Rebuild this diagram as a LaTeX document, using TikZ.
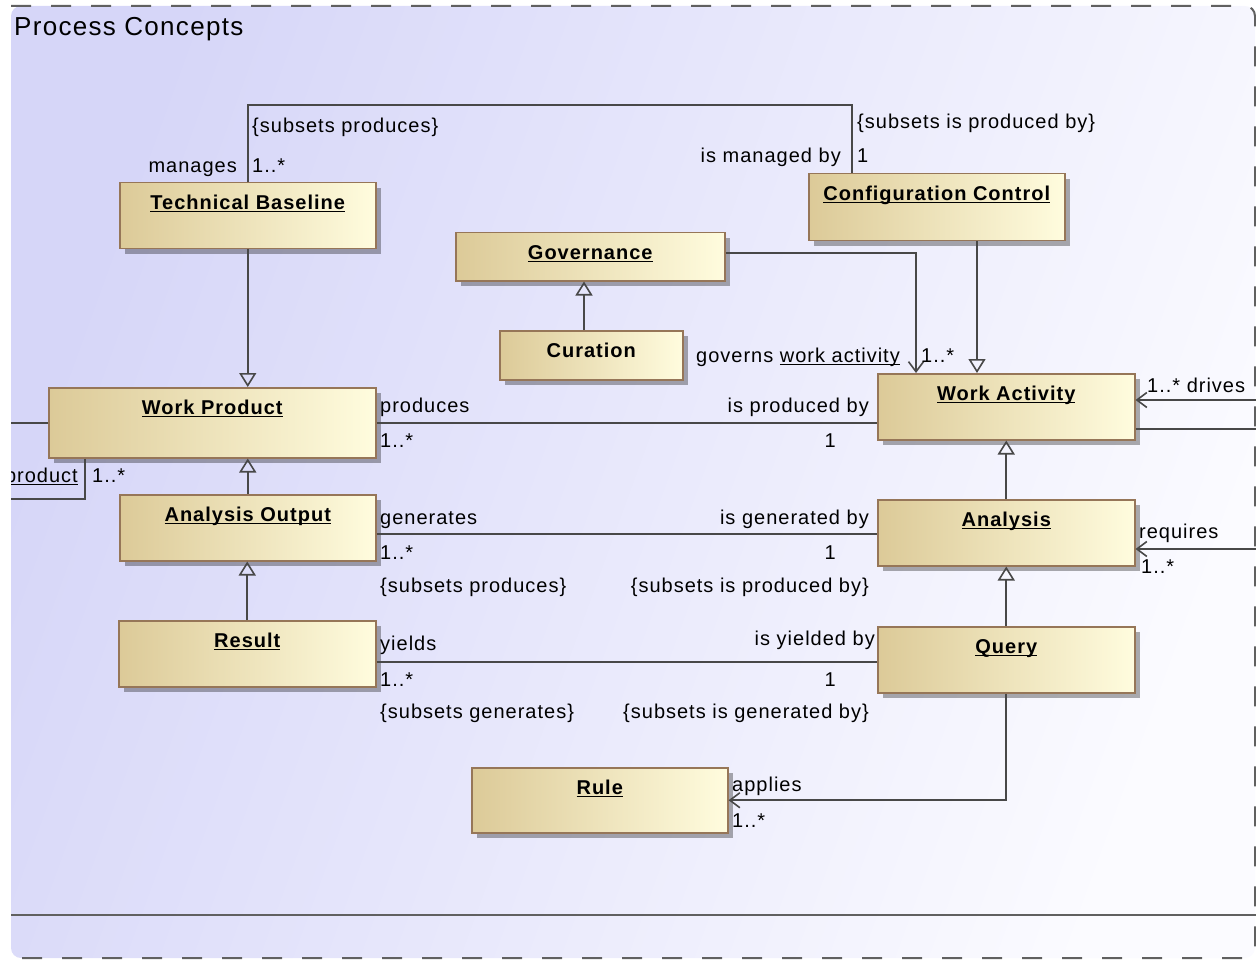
\documentclass[tikz,border=0pt]{standalone}
\usepackage{fontspec}
\setmainfont{Liberation Sans}[LetterSpace=5]
\usetikzlibrary{arrows.meta,shadows}

\definecolor{lavL}{RGB}{214,214,248}
\definecolor{lavR}{RGB}{251,251,255}
\definecolor{boxL}{RGB}{220,202,152}
\definecolor{boxR}{RGB}{255,252,222}
\definecolor{boxB}{RGB}{150,118,88}
\definecolor{wireC}{RGB}{72,72,72}
\definecolor{frameC}{RGB}{96,96,96}

% underline drawn at a fixed depth below the baseline
\newcommand\uln[1]{\setbox0\hbox{#1}\rlap{\rule[-2.8pt]{\wd0}{1.4pt}}#1}

\begin{document}
\begin{tikzpicture}[x=1pt, y=-1pt,
  font=\fontsize{20}{24}\selectfont,
  classbox/.style={draw=boxB, line width=1.5pt, left color=boxL, right color=boxR,
    inner sep=0pt, text height=26.5pt, anchor=north west,
    font=\fontsize{20}{24}\selectfont\bfseries,
    drop shadow={shadow xshift=5pt, shadow yshift=-5pt, fill=black, opacity=0.32}},
  conn/.style={draw=wireC, line width=1.6pt},
  gen/.style={conn, -{Triangle[open, length=14pt, width=17pt]}},
  nav/.style={conn, -{Straight Barb[length=10pt, width=15pt]}},
  lbl/.style={inner sep=0pt, text height=14.6pt, text depth=4.2pt},
  framedash/.style={draw=frameC, line width=2pt, dash pattern=on 20pt off 20pt}]

\useasboundingbox (0,0) rectangle (1256,960);

% package frame
\shade[left color=lavL, right color=lavR, shading angle=70, rounded corners=10pt]
  (11,6) rectangle (1255,958);
\draw[framedash, rounded corners=10pt] (11,6) -- (1255,6) -- (1255,958) -- (11,958);
\draw[draw=frameC, line width=2pt] (11,915) -- (1256,915);

\node[lbl, anchor=west, font=\fontsize{26}{30}\selectfont\addfontfeature{LetterSpace=5}]
  (title) at (14,30) {Process Concepts};

% classes
\node[classbox, minimum width=256pt, text depth=39.5pt] (tb)  at (119,182) {\uln{Technical Baseline}};
\node[classbox, minimum width=256pt, text depth=40.5pt] (cc)  at (808,173) {\uln{Configuration Control}};
\node[classbox, minimum width=269pt, text depth=21.5pt] (gov) at (455,232) {\uln{Governance}};
\node[classbox, minimum width=183pt, text depth=22.5pt] (cur) at (499,330) {Curation};
\node[classbox, minimum width=327pt, text depth=43.5pt] (wp)  at (48,387)  {\uln{Work Product}};
\node[classbox, minimum width=257pt, text depth=39.5pt] (wa)  at (877,373) {\uln{Work Activity}};
\node[classbox, minimum width=256pt, text depth=39.5pt] (ao)  at (119,494) {\uln{Analysis Output}};
\node[classbox, minimum width=257pt, text depth=39.5pt] (an)  at (877,499) {\uln{Analysis}};
\node[classbox, minimum width=257pt, text depth=39.5pt] (re)  at (118,620) {\uln{Result}};
\node[classbox, minimum width=257pt, text depth=39.5pt] (qu)  at (877,626) {\uln{Query}};
\node[classbox, minimum width=256pt, text depth=38.5pt] (ru)  at (471,767) {\uln{Rule}};

% routing points
\coordinate (mgmt) at (852,105);
\coordinate (govturn) at (916,253);
\coordinate (curx) at (584,0);
\coordinate (ccx) at (977,0);
\coordinate (genY) at (600,534);
\coordinate (yldY) at (600,662);
\coordinate (drv) at (1256,400);
\coordinate (wr) at (1256,429);
\coordinate (req) at (1256,549);
\coordinate (wl) at (11,422);
\coordinate (wlb) at (11,499);
\coordinate (wpx) at (85,0);

% generalizations
\draw[gen] (tb.south) -- (tb.south |- wp.north);
\draw[gen] (ao.north) -- (ao.north |- wp.south);
\draw[gen] (re.north) -- (re.north |- ao.south);
\draw[gen] (an.north) -- (an.north |- wa.south);
\draw[gen] (qu.north) -- (qu.north |- an.south);
\draw[gen] (cur.north -| curx) -- (gov.south -| curx);
\draw[gen] (cc.south -| ccx) -- (wa.north -| ccx);

% associations
\draw[conn] (tb.north) |- (mgmt) -- (mgmt |- cc.north);
\draw[nav] (gov.east |- govturn) -- (govturn) -- (govturn |- wa.north);
\draw[conn] (wp.east) -- (wp.east -| wa.west);
\draw[conn] (ao.east |- genY) -- (genY -| an.west);
\draw[conn] (re.east |- yldY) -- (yldY -| qu.west);
\draw[nav] (qu.south) |- (ru.east);
\draw[nav] (drv) -- (drv -| wa.east);
\draw[conn] (wa.east |- wr) -- (wr);
\draw[nav] (req) -- (req -| an.east);
\draw[conn] (wp.west) -- (wp.west -| wl);
\draw[conn] (wp.south -| wpx) |- (wlb);

% association end labels
\node[lbl, anchor=west] (l1)  at (252,127) {\{subsets produces\}};
\node[lbl, anchor=east] (l2)  at (237,167) {manages};
\node[lbl, anchor=west] (l3)  at (252,167) {1..*};
\node[lbl, anchor=west] (l4)  at (857,123) {\{subsets is produced by\}};
\node[lbl, anchor=east] (l5)  at (841,157) {is managed by};
\node[lbl, anchor=west] (l6)  at (857,157) {1};

\node[lbl, anchor=west] (l7)  at (696,357) {governs \uln{work activity}};
\node[lbl, anchor=west] (l8)  at (921,357) {1..*};

\node[lbl, anchor=west] (l9)  at (380,407) {produces};
\node[lbl, anchor=west] (l10) at (380,442) {1..*};
\node[lbl, anchor=east] (l11) at (869,407) {is produced by};
\node[lbl, anchor=east] (l12) at (836,442) {1};

\node[lbl, anchor=west] (l13) at (380,519) {generates};
\node[lbl, anchor=west] (l14) at (380,554) {1..*};
\node[lbl, anchor=west] (l15) at (380,587) {\{subsets produces\}};
\node[lbl, anchor=east] (l16) at (869,519) {is generated by};
\node[lbl, anchor=east] (l17) at (836,554) {1};
\node[lbl, anchor=east] (l18) at (869,587) {\{subsets is produced by\}};

\node[lbl, anchor=west] (l19) at (380,645) {yields};
\node[lbl, anchor=west] (l20) at (380,681) {1..*};
\node[lbl, anchor=west] (l21) at (380,713) {\{subsets generates\}};
\node[lbl, anchor=east] (l22) at (875,640) {is yielded by};
\node[lbl, anchor=east] (l23) at (836,681) {1};
\node[lbl, anchor=east] (l24) at (869,713) {\{subsets is generated by\}};

\node[lbl, anchor=west] (l25) at (732,786) {applies};
\node[lbl, anchor=west] (l26) at (732,822) {1..*};

\node[lbl, anchor=west] (l27) at (1147,387) {1..* drives};
\node[lbl, anchor=west] (l28) at (1139,533) {requires};
\node[lbl, anchor=west] (l29) at (1141,568) {1..*};

\begin{scope}
  \clip (11,0) rectangle (1256,960);
  \node[lbl, anchor=east] (l30) at (78,477) {\uln{product}};
\end{scope}
\node[lbl, anchor=west] (l31) at (92,477) {1..*};

\end{tikzpicture}
\end{document}
